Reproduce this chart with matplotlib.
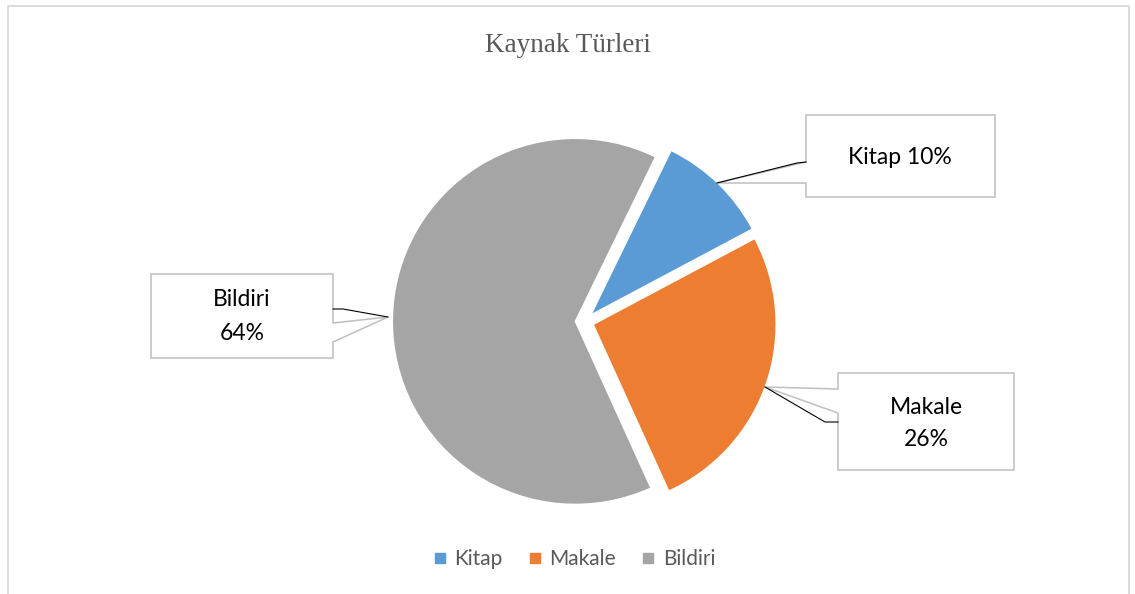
import matplotlib.pyplot as plt
from matplotlib.lines import Line2D
from matplotlib.patches import Polygon

# data
categories = ['Kitap', 'Makale', 'Bildiri']
shares = [10, 26, 64]
colors = ['#5B9BD5', '#ED7D31', '#A5A5A5']
title = 'Kaynak Türleri'

W, H = 1135, 594
fig = plt.figure(figsize=(W / 100, H / 100), dpi=100)

# pie axes placed in pixels (center ~ (584, 321), radius ~183 px)
R = 183
cx, cy = 584.5, 321.5
side = 2 * 1.1 * R
ax = fig.add_axes([(cx - side / 2) / W, (H - cy - side / 2) / H, side / W, side / H])
ax.pie(shares, colors=colors, startangle=64, counterclock=False,
       explode=[0.05] * 3, radius=1,
       wedgeprops=dict(edgecolor='white', linewidth=1.0))
ax.set_xlim(-1.1, 1.1)
ax.set_ylim(-1.1, 1.1)
ax.set_aspect('equal')
ax.axis('off')

# overlay in pixel coords for frame, title and callouts
ov = fig.add_axes([0, 0, 1, 1], zorder=5)
ov.set_xlim(0, W)
ov.set_ylim(H, 0)
ov.axis('off')
ov.patch.set_alpha(0)

ov.plot([8, 8, 1129, 1129], [H + 5, 6, 6, H + 5], color='#D9D9D9', lw=1.3)

ov.text(568, 45, title, ha='center', va='center', fontsize=19.5,
        family='Liberation Serif', color='#595959')

box_kw = dict(facecolor='white', edgecolor='#BFBFBF', linewidth=1.1, zorder=6)
lbl_kw = dict(ha='center', va='center', fontsize=16.5, family='Lato', color='black', zorder=7)

# Kitap callout
ov.add_patch(Polygon([(806, 115), (995, 115), (995, 197), (806, 197), (806, 183),
                      (717, 183), (806, 162)], closed=True, **box_kw))
ov.plot([717, 797, 806], [183, 163, 162], color='black', lw=0.8, zorder=6.5)
ov.text(900, 158, f'{categories[0]} {shares[0]}%', **lbl_kw)

# Bildiri callout
ov.add_patch(Polygon([(151, 274), (333, 274), (333, 323), (388, 317), (333, 342),
                      (333, 358), (151, 358)], closed=True, **box_kw))
ov.plot([333, 343, 388], [309, 309, 317], color='black', lw=0.8, zorder=6.5)
ov.text(242, 300, categories[2], **lbl_kw)
ov.text(242, 333, f'{shares[2]}%', **lbl_kw)

# Makale callout
ov.add_patch(Polygon([(838, 373), (1014, 373), (1014, 470), (838, 470), (838, 413),
                      (765, 387), (838, 389)], closed=True, **box_kw))
ov.plot([765, 825, 838], [387, 422, 422], color='black', lw=0.8, zorder=6.5)
ov.text(926, 407, categories[1], **lbl_kw)
ov.text(926, 440, f'{shares[1]}%', **lbl_kw)

# legend
handles = [Line2D([], [], marker='s', linestyle='none', markersize=6.5,
                  markerfacecolor=c, markeredgecolor=c) for c in colors]
leg = fig.legend(handles, categories, loc='center', bbox_to_anchor=(575 / W, 1 - 559 / H),
                 ncol=3, frameon=False, handlelength=0.5, handletextpad=0.45,
                 columnspacing=1.3, prop={'family': 'Lato', 'size': 15})
for t in leg.get_texts():
    t.set_color('#595959')

fig.savefig('out.png', dpi=100)
